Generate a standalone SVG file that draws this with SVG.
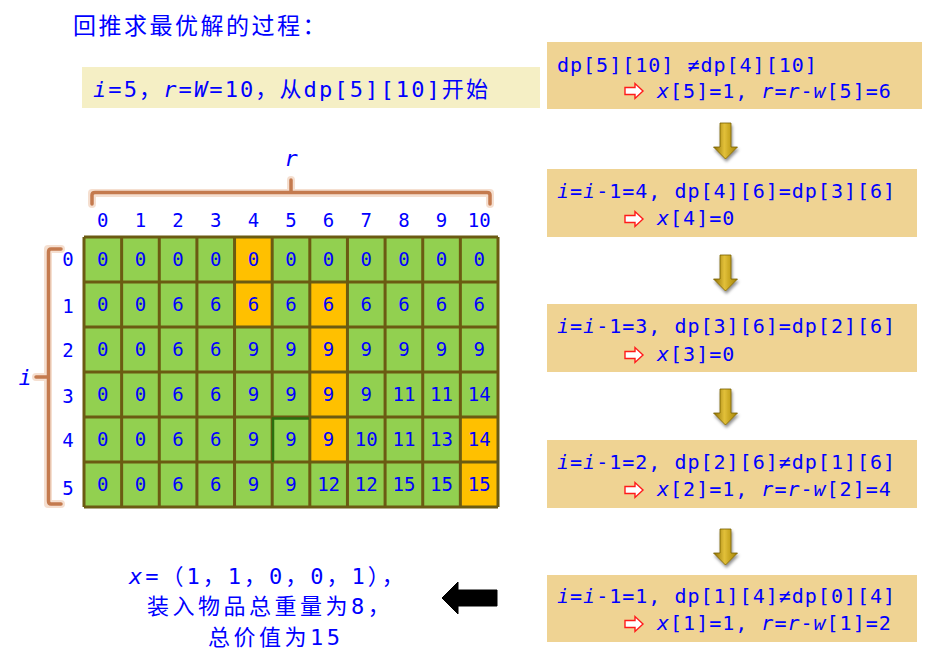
<svg xmlns="http://www.w3.org/2000/svg" width="925" height="670" viewBox="0 0 925 670">
<style>
.mono{font-family:"DejaVu Sans Mono","Noto Sans CJK SC",monospace;fill:#0000ff}
.cjk{font-family:"Noto Sans CJK SC","DejaVu Sans Mono",sans-serif;fill:#0000ff}
.it{font-style:italic}
.num{font-size:19px;text-anchor:middle}
.hdr{font-size:19px;text-anchor:middle}
.rbox{fill:#efd393}
.btxt{font-size:20px;letter-spacing:1px}
.gridline{stroke:#6b5b12;stroke-width:3;fill:none}
.brk-glow{stroke:#e8b896;stroke-width:8;fill:none;opacity:.45;stroke-linejoin:round;stroke-linecap:round}
.brk{stroke:#c47a4e;stroke-width:3.5;fill:none;stroke-linejoin:round;stroke-linecap:round}
</style>
<defs>
<linearGradient id="gold" x1="0" y1="0" x2="1" y2="0">
<stop offset="0" stop-color="#8c6e00"/>
<stop offset="0.45" stop-color="#e2c03a"/>
<stop offset="1" stop-color="#a38200"/>
</linearGradient>
<filter id="shadow" x="-50%" y="-30%" width="200%" height="180%">
<feDropShadow dx="1" dy="2.5" stdDeviation="1.5" flood-color="#000" flood-opacity="0.45"/>
</filter>
<path id="goldArrow" d="M-5.5,0 H5.5 V24 H12 L0,36 L-12,24 H-5.5 Z" fill="url(#gold)" stroke="#7a6000" stroke-width="0.8" filter="url(#shadow)"/>
<path id="redArrow" d="M0,-3.5 H10 V-7.5 L18,0 L10,7.5 V3.5 H0 Z" fill="#ffffff" stroke="#ff1a1a" stroke-width="1.4" stroke-linejoin="miter"/>
</defs>
<rect width="925" height="670" fill="#ffffff"/>

<g id="title">
<text class="cjk" x="73" y="34" font-size="23" letter-spacing="2.5">回推求最优解的过程：</text>
</g>

<g id="start">
<rect x="82" y="67" width="458" height="41" fill="#f5efc5"/>
<text class="mono" x="93" y="97" font-size="22" textLength="395" lengthAdjust="spacing"><tspan class="it">i</tspan>=5，<tspan class="it">r</tspan>=<tspan class="it">W</tspan>=10，从dp[5][10]开始</text>
</g>

<g id="brackets">
<path class="brk-glow" d="M92,204 V193 H490 V204 M291,193 V180"/>
<path class="brk" d="M92,204 V195 Q92,192.5 95,192.5 H487 Q490,192.5 490,195 V204 M291,192.5 V180"/>
<path class="brk-glow" d="M61,249 H48 V504 H61 M48,377 H36"/>
<path class="brk" d="M61,249 H51 Q48.5,249 48.5,252 V501 Q48.5,504 51,504 H61 M48.5,377 H36"/>
<text class="mono it" x="291" y="166" font-size="22" text-anchor="middle">r</text>
<text class="mono it" x="25" y="385" font-size="22" text-anchor="middle">i</text>
</g>

<g id="col-headers" class="mono hdr">
<text x="102.8" y="227">0</text><text x="140.5" y="227">1</text><text x="178.1" y="227">2</text><text x="215.7" y="227">3</text><text x="253.4" y="227">4</text><text x="291.0" y="227">5</text><text x="328.6" y="227">6</text><text x="366.3" y="227">7</text><text x="403.9" y="227">8</text><text x="441.5" y="227">9</text><text x="479.2" y="227">10</text>
</g>
<g id="row-headers" class="mono hdr">
<text x="68" y="266">0</text><text x="68" y="313">1</text><text x="68" y="357">2</text><text x="68" y="403">3</text><text x="68" y="447">4</text><text x="68" y="495">5</text>
</g>

<g id="table">
<rect x="84" y="237" width="414" height="270" fill="#92d050"/>
<g fill="#ffc000">
<rect x="234.55" y="237" width="37.64" height="45"/>
<rect x="234.55" y="282" width="37.64" height="45"/>
<rect x="309.82" y="282" width="37.64" height="45"/>
<rect x="309.82" y="327" width="37.64" height="45"/>
<rect x="309.82" y="372" width="37.64" height="45"/>
<rect x="309.82" y="417" width="37.64" height="45"/>
<rect x="460.36" y="417" width="37.64" height="45"/>
<rect x="460.36" y="462" width="37.64" height="45"/>
</g>
<path class="gridline" d="M84,237 H498 M84,282 H498 M84,327 H498 M84,372 H498 M84,417 H498 M84,462 H498 M84,507 H498 M84,237 V507 M121.64,237 V507 M159.27,237 V507 M196.91,237 V507 M234.55,237 V507 M272.18,237 V507 M309.82,237 V507 M347.45,237 V507 M385.09,237 V507 M422.73,237 V507 M460.36,237 V507 M498,237 V507"/>
<path d="M273,462 V418.5 H309" stroke="#2a6d10" stroke-width="2.5" fill="none"/>
<g class="mono num">
<text x="102.8" y="266">0</text><text x="140.5" y="266">0</text><text x="178.1" y="266">0</text><text x="215.7" y="266">0</text><text x="253.4" y="266">0</text><text x="291.0" y="266">0</text><text x="328.6" y="266">0</text><text x="366.3" y="266">0</text><text x="403.9" y="266">0</text><text x="441.5" y="266">0</text><text x="479.2" y="266">0</text>
<text x="102.8" y="311">0</text><text x="140.5" y="311">0</text><text x="178.1" y="311">6</text><text x="215.7" y="311">6</text><text x="253.4" y="311">6</text><text x="291.0" y="311">6</text><text x="328.6" y="311">6</text><text x="366.3" y="311">6</text><text x="403.9" y="311">6</text><text x="441.5" y="311">6</text><text x="479.2" y="311">6</text>
<text x="102.8" y="356">0</text><text x="140.5" y="356">0</text><text x="178.1" y="356">6</text><text x="215.7" y="356">6</text><text x="253.4" y="356">9</text><text x="291.0" y="356">9</text><text x="328.6" y="356">9</text><text x="366.3" y="356">9</text><text x="403.9" y="356">9</text><text x="441.5" y="356">9</text><text x="479.2" y="356">9</text>
<text x="102.8" y="401">0</text><text x="140.5" y="401">0</text><text x="178.1" y="401">6</text><text x="215.7" y="401">6</text><text x="253.4" y="401">9</text><text x="291.0" y="401">9</text><text x="328.6" y="401">9</text><text x="366.3" y="401">9</text><text x="403.9" y="401">11</text><text x="441.5" y="401">11</text><text x="479.2" y="401">14</text>
<text x="102.8" y="446">0</text><text x="140.5" y="446">0</text><text x="178.1" y="446">6</text><text x="215.7" y="446">6</text><text x="253.4" y="446">9</text><text x="291.0" y="446">9</text><text x="328.6" y="446">9</text><text x="366.3" y="446">10</text><text x="403.9" y="446">11</text><text x="441.5" y="446">13</text><text x="479.2" y="446">14</text>
<text x="102.8" y="491">0</text><text x="140.5" y="491">0</text><text x="178.1" y="491">6</text><text x="215.7" y="491">6</text><text x="253.4" y="491">9</text><text x="291.0" y="491">9</text><text x="328.6" y="491">12</text><text x="366.3" y="491">12</text><text x="403.9" y="491">15</text><text x="441.5" y="491">15</text><text x="479.2" y="491">15</text>
</g>
</g>

<g id="step1">
<rect class="rbox" x="547" y="42" width="375" height="67"/>
<text class="mono btxt" x="557" y="72">dp[5][10] ≠dp[4][10]</text>
<use href="#redArrow" x="625" y="91"/>
<text class="mono btxt" x="657" y="98"><tspan class="it">x</tspan>[5]=1, <tspan class="it">r</tspan>=<tspan class="it">r</tspan>-<tspan class="it">w</tspan>[5]=6</text>
</g>
<g id="step2">
<rect class="rbox" x="547" y="169" width="370" height="68"/>
<text class="mono btxt" x="557" y="198"><tspan class="it">i</tspan>=<tspan class="it">i</tspan>-1=4, dp[4][6]=dp[3][6]</text>
<use href="#redArrow" x="625" y="219"/>
<text class="mono btxt" x="657" y="225"><tspan class="it">x</tspan>[4]=0</text>
</g>
<g id="step3">
<rect class="rbox" x="547" y="304" width="370" height="68"/>
<text class="mono btxt" x="557" y="333"><tspan class="it">i</tspan>=<tspan class="it">i</tspan>-1=3, dp[3][6]=dp[2][6]</text>
<use href="#redArrow" x="625" y="355"/>
<text class="mono btxt" x="657" y="361"><tspan class="it">x</tspan>[3]=0</text>
</g>
<g id="step4">
<rect class="rbox" x="547" y="440" width="370" height="68"/>
<text class="mono btxt" x="557" y="469"><tspan class="it">i</tspan>=<tspan class="it">i</tspan>-1=2, dp[2][6]≠dp[1][6]</text>
<use href="#redArrow" x="625" y="490"/>
<text class="mono btxt" x="657" y="496"><tspan class="it">x</tspan>[2]=1, <tspan class="it">r</tspan>=<tspan class="it">r</tspan>-<tspan class="it">w</tspan>[2]=4</text>
</g>
<g id="step5">
<rect class="rbox" x="547" y="575" width="370" height="67"/>
<text class="mono btxt" x="557" y="603"><tspan class="it">i</tspan>=<tspan class="it">i</tspan>-1=1, dp[1][4]≠dp[0][4]</text>
<use href="#redArrow" x="625" y="624"/>
<text class="mono btxt" x="657" y="630"><tspan class="it">x</tspan>[1]=1, <tspan class="it">r</tspan>=<tspan class="it">r</tspan>-<tspan class="it">w</tspan>[1]=2</text>
</g>

<g id="result">
<text class="mono" x="129" y="584" font-size="22" letter-spacing="3"><tspan class="it">x</tspan>=（1，1，0，0，1），</text>
<text class="cjk" x="147" y="614" font-size="22" letter-spacing="3.5">装入物品总重量为<tspan class="mono" font-family="DejaVu Sans Mono">8</tspan>，</text>
<text class="cjk" x="208" y="645" font-size="22" letter-spacing="3.5">总价值为<tspan font-family="DejaVu Sans Mono">15</tspan></text>
</g>

<g id="connectors">
<use href="#goldArrow" x="725.5" y="123"/>
<use href="#goldArrow" x="725.5" y="255"/>
<use href="#goldArrow" x="725.5" y="389"/>
<use href="#goldArrow" x="725.5" y="529"/>
<path d="M442,598 L458,582 V590 H497 V606 H458 V614 Z" fill="#000000" stroke="#000" stroke-width="1" stroke-linejoin="round"/>
</g>
</svg>
